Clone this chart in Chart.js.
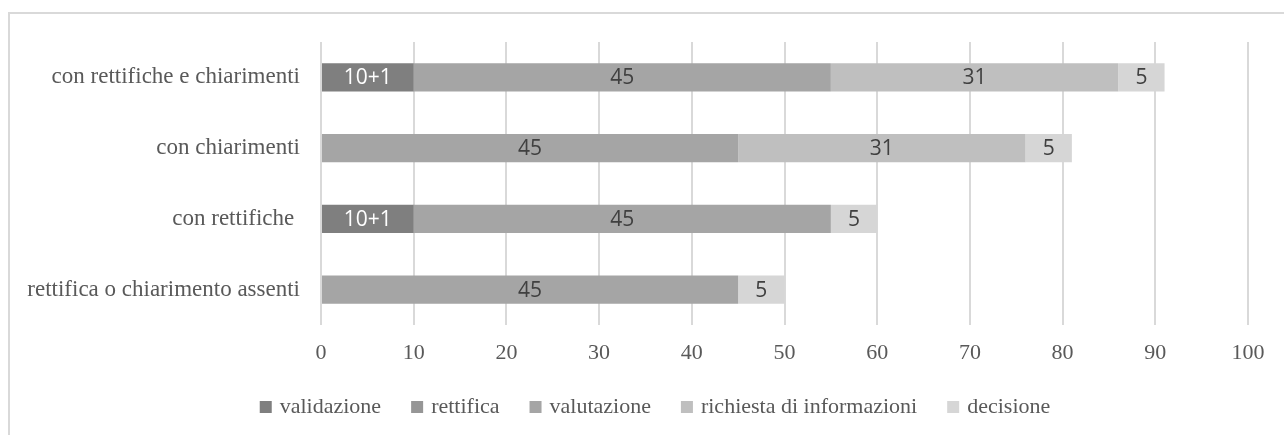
<!DOCTYPE html>
<html>
<head>
<meta charset="utf-8">
<script src="https://cdn.jsdelivr.net/npm/chart.js@4"></script>
<style>
  html, body { margin: 0; padding: 0; background: #fff; }
  #wrap { width: 1284px; height: 435px; position: relative; }
</style>
</head>
<body>
<div id="wrap"><canvas id="chart" width="1284" height="435"></canvas></div>
<script>
// Procedure types (top to bottom) and step durations
const categories = [
    'con rettifiche e chiarimenti',
    'con chiarimenti',
    'con rettifiche ',
    'rettifica o chiarimento assenti'
];
const validazione = [10, 0, 10, 0];
const rettificaExtra = [1, 0, 1, 0];   // shown inside the validation label as "+1"
const rettifica = [0, 0, 0, 0];
const valutazione = [45, 45, 45, 45];
const richiesta = [31, 31, 0, 0];
const decisione = [5, 5, 5, 5];
const xTicks = [0, 10, 20, 30, 40, 50, 60, 70, 80, 90, 100];

const serif = "'Liberation Serif', 'Times New Roman', serif";
const textGrey = '#595959';

// Frame around the whole chart
const frame = {
    id: 'frame',
    beforeDraw(chart) {
        const ctx = chart.ctx;
        ctx.save();
        ctx.fillStyle = '#fff';
        ctx.fillRect(0, 0, chart.width, chart.height);
        ctx.strokeStyle = '#d9d9d9';
        ctx.lineWidth = 2;
        ctx.strokeRect(9, 13, chart.width + 10, chart.height + 10);
        ctx.restore();
    }
};

// Values written in the middle of each segment
const segmentLabels = {
    id: 'segmentLabels',
    afterDatasetsDraw(chart) {
        const ctx = chart.ctx;
        ctx.save();
        ctx.font = "21px 'Open Sans', 'Liberation Sans', sans-serif";
        ctx.textAlign = 'center';
        ctx.textBaseline = 'middle';
        chart.data.datasets.forEach((ds, di) => {
            const meta = chart.getDatasetMeta(di);
            meta.data.forEach((bar, i) => {
                const v = ds.data[i];
                if (!v) return;
                let txt = String(v);
                if (di === 0 && rettificaExtra[i]) txt = v + '+' + rettificaExtra[i];
                ctx.fillStyle = di === 0 ? '#ffffff' : '#404040';
                ctx.fillText(txt, (bar.x + bar.base) / 2, bar.y + 1);
            });
        });
        ctx.restore();
    }
};

// Legend row under the axis: square swatch + name, centred as a group
const bottomLegend = {
    id: 'bottomLegend',
    afterDraw(chart) {
        const ctx = chart.ctx;
        const y = 407, box = 12, textGap = 8, itemGap = 30;
        ctx.save();
        ctx.font = '22px ' + serif;
        ctx.textBaseline = 'middle';
        const items = chart.data.datasets.map(ds => ({
            text: ds.label, color: ds.backgroundColor, w: ctx.measureText(ds.label).width
        }));
        let total = items.reduce((s, it) => s + box + textGap + it.w, 0) + itemGap * (items.length - 1);
        let x = 655 - total / 2;
        items.forEach(it => {
            ctx.fillStyle = it.color;
            ctx.fillRect(x, y - 6, box, box);
            ctx.fillStyle = textGrey;
            ctx.fillText(it.text, x + box + textGap, y);
            x += box + textGap + it.w + itemGap;
        });
        ctx.restore();
    }
};

new Chart(document.getElementById('chart'), {
    type: 'bar',
    data: {
        labels: categories,
        datasets: [
            { label: 'validazione', data: validazione, backgroundColor: '#7f7f7f' },
            { label: 'rettifica', data: rettifica, backgroundColor: '#969696' },
            { label: 'valutazione', data: valutazione, backgroundColor: '#a5a5a5' },
            { label: 'richiesta di informazioni', data: richiesta, backgroundColor: '#bfbfbf' },
            { label: 'decisione', data: decisione, backgroundColor: '#d6d6d6' }
        ]
    },
    options: {
        indexAxis: 'y',
        responsive: false,
        animation: false,
        datasets: { bar: { barPercentage: 0.4, categoryPercentage: 1, borderWidth: 0 } },
        layout: { padding: { top: 42, left: 10, right: 36, bottom: 69 } },
        plugins: {
            legend: { display: false },
            tooltip: { enabled: false }
        },
        scales: {
            x: {
                stacked: true,
                min: 0,
                max: 100,
                afterBuildTicks(axis) { axis.ticks = xTicks.map(v => ({ value: v })); },
                afterFit(axis) { axis.height = 41; },
                grid: { color: '#d9d9d9', lineWidth: 2, drawTicks: false },
                border: { display: false },
                ticks: { color: textGrey, font: { family: serif, size: 22 }, padding: 15 }
            },
            y: {
                stacked: true,
                afterFit(axis) { axis.width = 321 - 10; },
                grid: { display: false, drawTicks: false },
                border: { display: false },
                ticks: { color: textGrey, font: { family: serif, size: 23 }, padding: 21 }
            }
        }
    },
    plugins: [frame, segmentLabels, bottomLegend]
});
</script>
</body>
</html>
